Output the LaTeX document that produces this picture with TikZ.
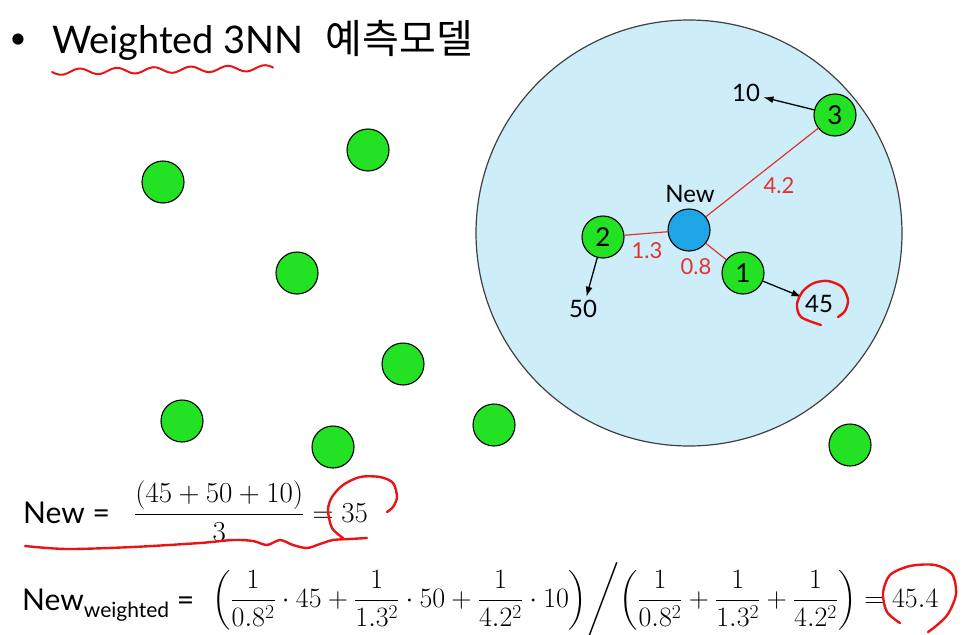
\RequirePackage{fix-cm}
\documentclass[tikz,border=0pt]{standalone}
\usepackage{amsmath}
\usepackage{fontspec}
\setmainfont{Lato}
\newfontfamily\kofont{Noto Sans CJK KR}
\usetikzlibrary{arrows.meta}

\definecolor{ptgreen}{RGB}{35,225,35}
\definecolor{newblue}{RGB}{30,165,230}
\definecolor{areablue}{RGB}{205,238,248}
\definecolor{distred}{RGB}{225,50,50}
\definecolor{penred}{RGB}{235,20,20}

\tikzset{
  pt/.style={circle, draw=black, line width=1.1pt, fill=ptgreen, minimum size=42pt, inner sep=0pt, font=\fontsize{26}{26}\selectfont},
  newpt/.style={pt, fill=newblue},
  dist/.style={draw=distred, line width=1.2pt},
  distlbl/.style={text=distred, font=\fontsize{22}{22}\selectfont},
  val/.style={font=\fontsize{24}{24}\selectfont},
  toval/.style={draw, line width=1.3pt, -{Latex[length=10pt,width=7pt]}},
  redpen/.style={draw=penred, line width=2.4pt, line cap=round, line join=round},
}

\begin{document}
\begin{tikzpicture}[x=1pt,y=-1pt]
	\useasboundingbox (0,0) rectangle (979,634);
	% title
	\node (bullet) at (18,41) {\fontsize{30}{30}\selectfont\textbullet};
	\node[anchor=base west, inner sep=0] (title) at (52,53) {\fontsize{38}{38}\selectfont Weighted 3NN\hspace{22pt}{\kofont\fontsize{40}{40}\selectfont 예측모델}};
	\draw[redpen, line width=2pt] plot[domain=52:273, samples=60, smooth] (\x, {72-0.018*(\x-52)+3*sin((\x-52)/37*360)});

	% neighbourhood
	\draw[fill=areablue, draw=black!75, line width=1.2pt] (689,233) circle[radius=213pt];
	\node[newpt] (new) at (689,230) {};
	\node[font=\fontsize{24}{24}\selectfont] (newlbl) at (690,194) {New};
	\node[pt] (n3) at (835,115) {3};
	\node[pt] (n2) at (603,237) {2};
	\node[pt] (n1) at (743,273) {1};
	\foreach \px/\py [count=\i] in {163/182, 368/150, 297/273, 403/364, 182/421, 333/447, 494/425, 850/445}
		\node[pt] (g\i) at (\px,\py) {};

	\draw[dist] (new) -- (n3);
	\draw[dist] (new) -- (n2);
	\draw[dist] (new) -- (n1);
	\node[distlbl] (d3) at (779,186) {4.2};
	\node[distlbl] (d2) at (647,251) {1.3};
	\node[distlbl] (d1) at (696,267) {0.8};

	\node[val] (v10) at (746,93) {10};
	\node[val] (v50) at (583,309) {50};
	\node[val] (v45) at (819,304) {45};
	\draw[toval] (n3) -- (v10);
	\draw[toval] (n2) -- (v50);
	\draw[toval] (n1) -- (v45);
	\draw[redpen] plot[smooth] coordinates {(821,325) (801,317) (797,304) (803,291) (814,283) (828,281) (842,287) (848,300) (845,311) (838,317)};

	% plain average
	\node[anchor=base west, inner sep=0, font=\fontsize{30}{30}\selectfont] (f1) at (23,523) {New =};
	\node[anchor=base west, inner sep=0] (f1m) at (134,522) {\fontsize{29}{33}\selectfont $\dfrac{(45+50+10)}{3}=35$};
	\draw[redpen] plot[smooth] coordinates {(25,546) (67,549) (133,547) (200,543) (233,540) (253,541) (267,545) (280,540) (293,545) (307,548) (320,544) (333,540) (350,539) (367,538)};
	\draw[redpen] plot[smooth] coordinates {(343,538) (332,528) (328,510) (332,497) (343,485) (360,477) (380,477) (393,483) (397,497) (393,507) (387,512)};

	% weighted average
	\node[anchor=base west, inner sep=0, font=\fontsize{30}{30}\selectfont] (f2) at (22,610) {New\raisebox{-7pt}{\fontsize{21}{21}\selectfont weighted} =};
	\node[anchor=base west, inner sep=0] (f2m) at (212,607) {\fontsize{28}{32}\selectfont $\left(\dfrac{1}{0.8^2}\cdot 45+\dfrac{1}{1.3^2}\cdot 50+\dfrac{1}{4.2^2}\cdot 10\right)\!\bigg/\!\left(\dfrac{1}{0.8^2}+\dfrac{1}{1.3^2}+\dfrac{1}{4.2^2}\right)=45.4$};
	\draw[redpen] plot[smooth] coordinates {(900,623) (887,612) (883,593) (890,575) (910,566) (935,565) (952,574) (956,594) (948,614) (936,626) (928,632)};
\end{tikzpicture}
\end{document}
